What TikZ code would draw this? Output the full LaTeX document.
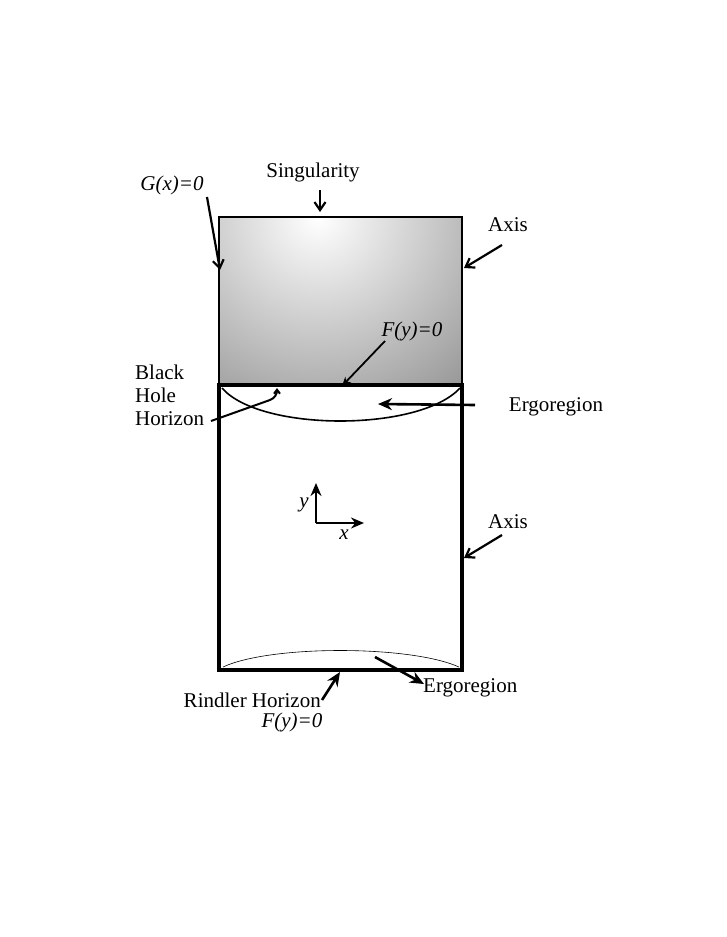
\documentclass[tikz,border=0pt]{standalone}
\usepackage{fontspec}
\setmainfont{Liberation Serif}
\usetikzlibrary{arrows.meta,fadings}
\tikzfading[name=beamfade,left color=transparent!100,middle color=transparent!0,right color=transparent!100]
\begin{document}
\begin{tikzpicture}[x=1pt,y=-1pt,
  lbl/.style={font=\fontsize{21}{24}\selectfont,inner sep=1pt},
  barb/.style={line width=2.2pt,-{Straight Barb[length=8pt,width=11pt,line width=2.2pt]}},
  fat/.style={line width=2.6pt,-{Stealth[length=14pt,width=12pt]}}]
\useasboundingbox (0,0) rectangle (726,937);
% shaded top region
\begin{scope}
\clip (219,217) rectangle (462,385);
\shade[inner color=white,outer color=black!55] (318,217) circle (300);
\fill[white,path fading=beamfade] (300,217) rectangle (336,385);
\end{scope}
\draw[line width=1.6pt] (219,385) -- (219,217) -- (462,217) -- (462,385);
\draw[line width=4pt] (219,385) rectangle (462,670);
% ergoregions
\draw[line width=1.6pt] (222,388) .. controls (260,432) and (420,432) .. (460,388);
\draw[line width=0.6pt] (223,667) .. controls (270,645) and (410,645) .. (459,667);
% coordinates
\coordinate (o) at (316,523);
\node[lbl] (gx) at (172,185) {\itshape G(x)=0};
\node[lbl] (sing) at (313,172) {Singularity};
\node[lbl] (ax1) at (508,225) {Axis};
\node[lbl] (fy1) at (412,331) {\itshape F(y)=0};
\node[lbl,align=left,anchor=west,font=\fontsize{21}{23}\selectfont] (bh) at (134,395) {Black\\Hole\\Horizon};
\node[lbl] (erg1) at (556,407) {Ergoregion};
\node[lbl] (ax2) at (508,522) {Axis};
\node[lbl,anchor=east] (rh) at (322,700) {Rindler Horizon};
\node[lbl] (fy2) at (292,722) {\itshape F(y)=0};
\node[lbl,anchor=west] (erg2) at (422,688) {Ergoregion};
\node[lbl] (ylab) at (304,505) {\itshape y};
\node[lbl] (xlab) at (344,535) {\itshape x};
\coordinate (gxe) at (220,270);
\coordinate (singe) at (320,212);
\coordinate (ax1e) at (464,268);
\coordinate (fy1e) at (342,386);
\coordinate (erg1e) at (378,404);
\coordinate (ax2e) at (464,558);
\coordinate (rhe) at (340,672);
\coordinate (erg2e) at (424,684);
\coordinate (ye) at (316,483);
\coordinate (xe) at (364,523);
% arrows
\draw[barb] (207,197) -- (gxe);
\draw[barb] (320,190) -- (singe);
\draw[barb] (502,245) -- (ax1e);
\draw[line width=1.8pt,-{Stealth[length=9pt,width=8pt]}] (385,341) -- (fy1e);
\draw[line width=2pt,-{Straight Barb[length=4pt,width=6pt]}] (211,421) -- (270,400) to[out=20,in=-90] (277,388);
\draw[fat] (475,405) -- (erg1e);
\draw[barb] (502,535) -- (ax2e);
\draw[fat] (322,700) -- (rhe);
\draw[fat] (375,657) -- (erg2e);
\draw[line width=2.2pt,-{Stealth[length=13pt,width=11pt]}] (o) -- (ye);
\draw[line width=2.2pt,-{Stealth[length=13pt,width=11pt]}] (o) -- (xe);
\end{tikzpicture}
\end{document}
